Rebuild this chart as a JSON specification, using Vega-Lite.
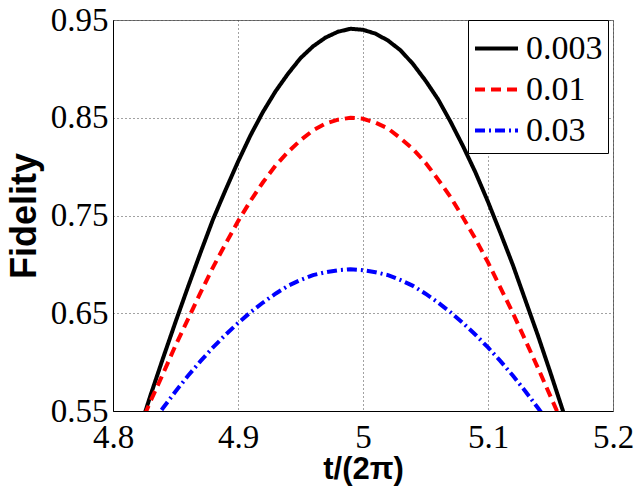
{
  "$schema": "https://vega.github.io/schema/vega-lite/v6.json",
  "width": 500,
  "height": 391,
  "autosize": {"type": "none"},
  "padding": {"left": 113, "top": 20, "right": 29, "bottom": 83},
  "background": "white",
  "config": {
    "view": {"stroke": "#777777", "strokeWidth": 1},
    "axis": {
      "labelFont": "Liberation Serif",
      "labelFontSize": 33,
      "labelColor": "black",
      "titleFont": "Liberation Sans",
      "titleFontWeight": "bold",
      "titleColor": "black",
      "domainColor": "black",
      "domainWidth": 1,
      "ticks": false,
      "grid": true,
      "gridColor": "#444444",
      "gridDash": [1, 3],
      "gridWidth": 1,
      "gridOpacity": 1,
      "labelFlush": false,
      "labelOverlap": false,
      "labelBound": false
    }
  },
  "data": {
    "values": [
      {"t": 4.82, "F": 0.526, "s": "0.003"},
      {"t": 4.83, "F": 0.566, "s": "0.003"},
      {"t": 4.84, "F": 0.604, "s": "0.003"},
      {"t": 4.85, "F": 0.641, "s": "0.003"},
      {"t": 4.86, "F": 0.677, "s": "0.003"},
      {"t": 4.87, "F": 0.712, "s": "0.003"},
      {"t": 4.88, "F": 0.746, "s": "0.003"},
      {"t": 4.89, "F": 0.776, "s": "0.003"},
      {"t": 4.90, "F": 0.805, "s": "0.003"},
      {"t": 4.91, "F": 0.832, "s": "0.003"},
      {"t": 4.92, "F": 0.856, "s": "0.003"},
      {"t": 4.93, "F": 0.877, "s": "0.003"},
      {"t": 4.94, "F": 0.895, "s": "0.003"},
      {"t": 4.95, "F": 0.911, "s": "0.003"},
      {"t": 4.96, "F": 0.923, "s": "0.003"},
      {"t": 4.97, "F": 0.932, "s": "0.003"},
      {"t": 4.98, "F": 0.938, "s": "0.003"},
      {"t": 4.99, "F": 0.941, "s": "0.003"},
      {"t": 5.00, "F": 0.940, "s": "0.003"},
      {"t": 5.01, "F": 0.936, "s": "0.003"},
      {"t": 5.02, "F": 0.929, "s": "0.003"},
      {"t": 5.03, "F": 0.919, "s": "0.003"},
      {"t": 5.04, "F": 0.905, "s": "0.003"},
      {"t": 5.05, "F": 0.888, "s": "0.003"},
      {"t": 5.06, "F": 0.869, "s": "0.003"},
      {"t": 5.07, "F": 0.846, "s": "0.003"},
      {"t": 5.08, "F": 0.821, "s": "0.003"},
      {"t": 5.09, "F": 0.794, "s": "0.003"},
      {"t": 5.10, "F": 0.764, "s": "0.003"},
      {"t": 5.11, "F": 0.732, "s": "0.003"},
      {"t": 5.12, "F": 0.699, "s": "0.003"},
      {"t": 5.13, "F": 0.663, "s": "0.003"},
      {"t": 5.14, "F": 0.627, "s": "0.003"},
      {"t": 5.15, "F": 0.589, "s": "0.003"},
      {"t": 5.16, "F": 0.550, "s": "0.003"},
      {"t": 5.17, "F": 0.511, "s": "0.003"},
      {"t": 4.81, "F": 0.501, "s": "0.01"},
      {"t": 4.82, "F": 0.530, "s": "0.01"},
      {"t": 4.83, "F": 0.560, "s": "0.01"},
      {"t": 4.84, "F": 0.588, "s": "0.01"},
      {"t": 4.85, "F": 0.617, "s": "0.01"},
      {"t": 4.86, "F": 0.644, "s": "0.01"},
      {"t": 4.87, "F": 0.671, "s": "0.01"},
      {"t": 4.88, "F": 0.697, "s": "0.01"},
      {"t": 4.89, "F": 0.721, "s": "0.01"},
      {"t": 4.90, "F": 0.744, "s": "0.01"},
      {"t": 4.91, "F": 0.765, "s": "0.01"},
      {"t": 4.92, "F": 0.784, "s": "0.01"},
      {"t": 4.93, "F": 0.801, "s": "0.01"},
      {"t": 4.94, "F": 0.815, "s": "0.01"},
      {"t": 4.95, "F": 0.827, "s": "0.01"},
      {"t": 4.96, "F": 0.837, "s": "0.01"},
      {"t": 4.97, "F": 0.844, "s": "0.01"},
      {"t": 4.98, "F": 0.848, "s": "0.01"},
      {"t": 4.99, "F": 0.850, "s": "0.01"},
      {"t": 5.00, "F": 0.849, "s": "0.01"},
      {"t": 5.01, "F": 0.845, "s": "0.01"},
      {"t": 5.02, "F": 0.839, "s": "0.01"},
      {"t": 5.03, "F": 0.829, "s": "0.01"},
      {"t": 5.04, "F": 0.818, "s": "0.01"},
      {"t": 5.05, "F": 0.804, "s": "0.01"},
      {"t": 5.06, "F": 0.787, "s": "0.01"},
      {"t": 5.07, "F": 0.769, "s": "0.01"},
      {"t": 5.08, "F": 0.748, "s": "0.01"},
      {"t": 5.09, "F": 0.726, "s": "0.01"},
      {"t": 5.10, "F": 0.702, "s": "0.01"},
      {"t": 5.11, "F": 0.676, "s": "0.01"},
      {"t": 5.12, "F": 0.650, "s": "0.01"},
      {"t": 5.13, "F": 0.622, "s": "0.01"},
      {"t": 5.14, "F": 0.594, "s": "0.01"},
      {"t": 5.15, "F": 0.565, "s": "0.01"},
      {"t": 5.16, "F": 0.536, "s": "0.01"},
      {"t": 4.82, "F": 0.518, "s": "0.03"},
      {"t": 4.83, "F": 0.536, "s": "0.03"},
      {"t": 4.84, "F": 0.553, "s": "0.03"},
      {"t": 4.85, "F": 0.570, "s": "0.03"},
      {"t": 4.86, "F": 0.586, "s": "0.03"},
      {"t": 4.87, "F": 0.601, "s": "0.03"},
      {"t": 4.88, "F": 0.615, "s": "0.03"},
      {"t": 4.89, "F": 0.628, "s": "0.03"},
      {"t": 4.90, "F": 0.640, "s": "0.03"},
      {"t": 4.91, "F": 0.651, "s": "0.03"},
      {"t": 4.92, "F": 0.661, "s": "0.03"},
      {"t": 4.93, "F": 0.670, "s": "0.03"},
      {"t": 4.94, "F": 0.678, "s": "0.03"},
      {"t": 4.95, "F": 0.684, "s": "0.03"},
      {"t": 4.96, "F": 0.689, "s": "0.03"},
      {"t": 4.97, "F": 0.692, "s": "0.03"},
      {"t": 4.98, "F": 0.694, "s": "0.03"},
      {"t": 4.99, "F": 0.695, "s": "0.03"},
      {"t": 5.00, "F": 0.694, "s": "0.03"},
      {"t": 5.01, "F": 0.692, "s": "0.03"},
      {"t": 5.02, "F": 0.689, "s": "0.03"},
      {"t": 5.03, "F": 0.684, "s": "0.03"},
      {"t": 5.04, "F": 0.678, "s": "0.03"},
      {"t": 5.05, "F": 0.670, "s": "0.03"},
      {"t": 5.06, "F": 0.661, "s": "0.03"},
      {"t": 5.07, "F": 0.651, "s": "0.03"},
      {"t": 5.08, "F": 0.640, "s": "0.03"},
      {"t": 5.09, "F": 0.628, "s": "0.03"},
      {"t": 5.10, "F": 0.615, "s": "0.03"},
      {"t": 5.11, "F": 0.601, "s": "0.03"},
      {"t": 5.12, "F": 0.586, "s": "0.03"},
      {"t": 5.13, "F": 0.570, "s": "0.03"},
      {"t": 5.14, "F": 0.553, "s": "0.03"},
      {"t": 5.15, "F": 0.536, "s": "0.03"}
    ]
  },
  "mark": {"type": "line", "clip": true, "strokeWidth": 4},
  "encoding": {
    "x": {
      "field": "t",
      "type": "quantitative",
      "scale": {"domain": [4.8, 5.2], "nice": false, "zero": false},
      "axis": {
        "values": [4.8, 4.9, 5.0, 5.1, 5.2],
        "format": "~g",
        "labelFont": "Liberation Serif",
        "labelPadding": 10,
        "title": "t/(2π)",
        "titleFontSize": 31,
        "titleBaseline": "alphabetic",
        "titleY": 67
      }
    },
    "y": {
      "field": "F",
      "type": "quantitative",
      "scale": {"domain": [0.55, 0.95], "nice": false, "zero": false},
      "axis": {
        "values": [0.55, 0.65, 0.75, 0.85, 0.95],
        "format": ".2f",
        "labelFont": "Liberation Serif",
        "labelPadding": 5,
        "title": "Fidelity",
        "titleFontSize": 36,
        "titleBaseline": "alphabetic",
        "titleX": -78
      }
    },
    "color": {
      "field": "s",
      "type": "nominal",
      "scale": {"domain": ["0.003", "0.01", "0.03"], "range": ["#000000", "#ff0000", "#0000ff"]},
      "legend": {
        "title": null,
        "orient": "none",
        "legendX": 355,
        "legendY": 0,
        "fillColor": "white",
        "strokeColor": "black",
        "padding": 5,
        "symbolType": "stroke",
        "symbolSize": 1849,
        "symbolStrokeWidth": 4,
        "labelFont": "Liberation Serif",
        "labelFontSize": 34,
        "labelColor": "black",
        "labelOffset": 6,
        "rowPadding": 0
      }
    },
    "strokeDash": {
      "field": "s",
      "type": "nominal",
      "scale": {"domain": ["0.003", "0.01", "0.03"], "range": [[1, 0], [10, 6], [10, 4, 2, 4]]},
      "legend": null
    }
  }
}
